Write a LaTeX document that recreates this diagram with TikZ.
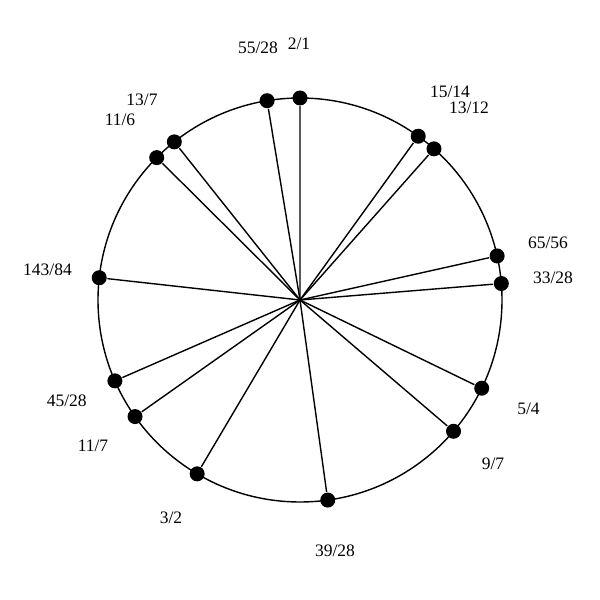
\documentclass[tikz,border=0pt]{standalone}
\usepackage{fontspec}
\setmainfont{Liberation Serif}
\begin{document}
\begin{tikzpicture}[x=1pt,y=1pt,line width=1.4pt,
  dot/.style={circle,fill=black,inner sep=0pt,minimum size=15pt},
  lbl/.style={font=\fontsize{17.5}{20}\selectfont,inner sep=0pt,anchor=base}]
\useasboundingbox (0,0) rectangle (600,600);
\node[circle,draw,minimum size=404pt,inner sep=0pt] (ring) at (300,300) {};
\coordinate (c) at (300,300);
\foreach \n/\a/\b/\lx/\ly in {
  a/2/1/299/50,
  b/55/28/258/54,
  d/13/7/142/106,
  e/11/6/120/126,
  f/143/84/47.5/275.7,
  g/45/28/66.7/406.7,
  h/11/7/93/452,
  i/3/2/171/524,
  j/39/28/335/557,
  k/9/7/493/470,
  l/5/4/528.5/415,
  m/33/28/553/284,
  o/65/56/548/249,
  p/13/12/469/114,
  q/15/14/450/98}{
  \pgfmathsetmacro{\ang}{90-360*ln(\a/\b)/ln(2)}
  \pgfmathsetmacro{\px}{300+202*cos(\ang)}
  \pgfmathsetmacro{\py}{300+202*sin(\ang)}
  \node[dot] (p\n) at (\px,\py) {};
  \draw (c) -- (p\n);
  \node[lbl] (l\n) at (\lx,600-\ly) {\a/\b};
}
\end{tikzpicture}
\end{document}
